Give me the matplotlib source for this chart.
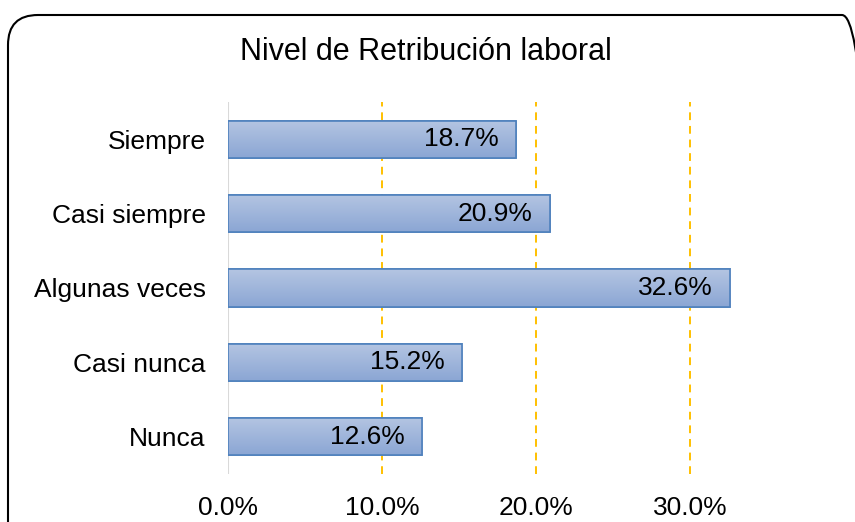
import numpy as np
import matplotlib.pyplot as plt
from matplotlib.patches import FancyBboxPatch
from matplotlib.colors import LinearSegmentedColormap
from matplotlib.transforms import IdentityTransform

plt.rcParams['font.family'] = ['Liberation Sans', 'DejaVu Sans']

categories = ["Siempre", "Casi siempre", "Algunas veces", "Casi nunca", "Nunca"]
values = [18.7, 20.9, 32.6, 15.2, 12.6]
xticks = [0, 10, 20, 30]
title = "Nivel de Retribución laboral"

W, H = 855, 522
fig = plt.figure(figsize=(W / 100, H / 100), dpi=100)

# rounded frame in pixel coords, cut at right and bottom like the original
frame = FancyBboxPatch((8, -30), 864, H - 15 + 30,
                       boxstyle="round,pad=0,rounding_size=30",
                       transform=IdentityTransform(), fill=False,
                       edgecolor="black", linewidth=1.5, clip_on=False)
fig.patches.append(frame)

ax = fig.add_axes([228 / W, 1 - 474 / H, (767 - 228) / W, 372 / H])
y = np.arange(len(categories))
bars = ax.barh(y, values, height=0.5, color="#9fb4da", edgecolor="#4f81bd",
               linewidth=1.2, zorder=3)

grad = np.linspace(0, 1, 100).reshape(-1, 1)
cmap = LinearSegmentedColormap.from_list("g", ["#b4c5e2", "#8ba6d4"])
for b in bars:
    x0, y0 = b.get_x(), b.get_y()
    im = ax.imshow(grad, extent=[x0, x0 + b.get_width(), y0 + b.get_height(), y0],
                   aspect="auto", cmap=cmap, zorder=3.5, origin="upper")
    im.set_clip_path(b)
    ax.add_patch(plt.Rectangle((x0, y0), b.get_width(), b.get_height(),
                               fill=False, edgecolor="#4f81bd", linewidth=1.2, zorder=4))

for yi, v in zip(y, values):
    ax.text(v - 1.1, yi, f"{v:.1f}%", ha="right", va="center", fontsize=19, zorder=5)

ax.set_xlim(0, 35)
ax.set_ylim(len(categories) - 0.5, -0.5)
ax.set_yticks(y)
ax.set_yticklabels(categories, fontsize=19)
ax.set_xticks(xticks)
ax.set_xticklabels([f"{t:.1f}%" for t in xticks], fontsize=19)
ax.tick_params(length=0)
ax.tick_params(axis="y", pad=16)
ax.tick_params(axis="x", pad=16)
for s in ax.spines.values():
    s.set_visible(False)
ax.axvline(0, color="#d9d9d9", linewidth=1.5, zorder=2)
for t in xticks[1:]:
    ax.axvline(t, color="#ffc000", linewidth=1.4, linestyle=(0, (4, 3)), zorder=1)

fig.text(426 / W, 1 - 52 / H, title, ha="center", va="center", fontsize=22)

fig.savefig("out.png", dpi=100)
